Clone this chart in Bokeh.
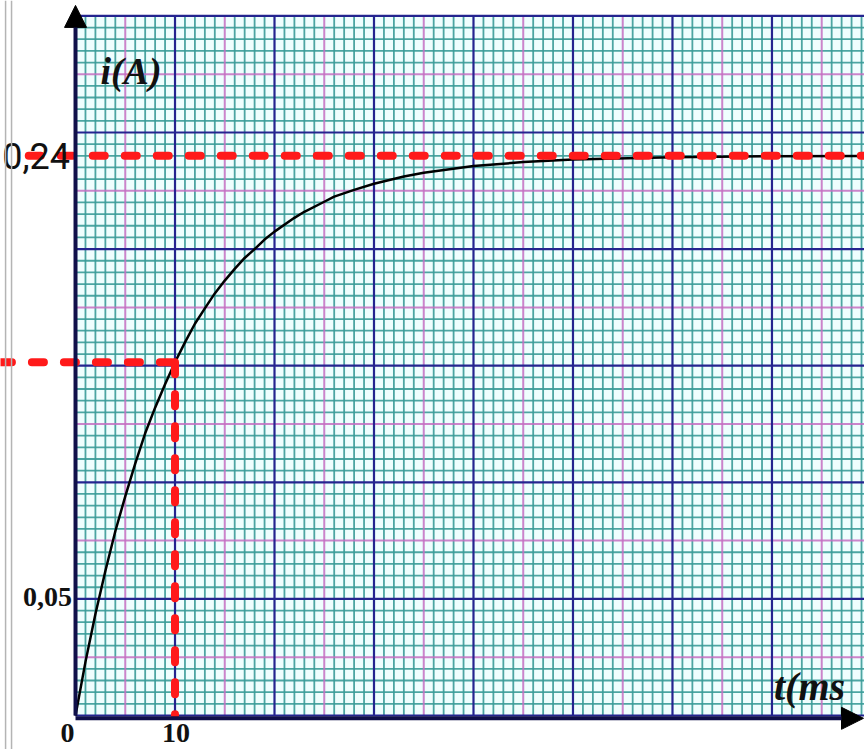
from bokeh.plotting import figure
from bokeh.models import Range1d, Arrow, NormalHead, Span
from bokeh.core.properties import value
from bokeh.embed import file_html
from bokeh.resources import INLINE

# RL circuit: current build-up i(t), time in ms, current in A
t_ms = [0, 1, 2, 3, 4, 5, 6, 7, 8, 9, 10, 11, 12, 13, 14, 15, 16, 17, 18,
        19, 20, 22, 23, 25, 26, 28, 30, 33, 35, 40, 45, 50, 60, 70, 80]
i_A = [0.0, 0.023, 0.0435, 0.062, 0.079, 0.094, 0.108, 0.121, 0.132, 0.142,
       0.1515, 0.16, 0.168, 0.1746, 0.181, 0.1865, 0.1915, 0.1962, 0.2,
       0.2041, 0.2075, 0.2134, 0.216, 0.2203, 0.2225, 0.2254, 0.228,
       0.2311, 0.2327, 0.2356, 0.2373, 0.2384, 0.2394, 0.2398, 0.2399]

i_max = 0.24        # steady-state current
tau = 10            # time constant (ms)
i_tau = 0.1515      # current reached at t = tau

x_tick_values = [0, 10]
x_tick_labels = ["0", "10"]
y_tick_values = [0.05]
y_tick_labels = ["0,05"]

# paper extent
T_END = 80
I_TOP = 0.30

p = figure(width=864, height=749, output_backend="svg", toolbar_location=None,
           x_range=Range1d(-7.54, 79.3), y_range=Range1d(-0.01458, 0.3066),
           x_axis_type=None, y_axis_type=None, min_border=0,
           outline_line_color=None, background_fill_color="white",
           border_fill_color="white")
p.xgrid.visible = False
p.ygrid.visible = False

# margin rulings on the left
for loc in (-7.03, -6.43):
    p.add_layout(Span(location=loc, dimension="height", line_color="#b4b4b4",
                      line_width=1.5))

# graph paper background
p.quad(left=0, right=T_END, bottom=0, top=I_TOP, fill_color="#effefe",
       line_color=None)

# graph paper rulings: 1 ms / 0.005 A cells, 5-unit marks in magenta, 10-unit in navy
vt = list(range(0, T_END + 1))
hk = list(range(0, int(round(I_TOP / 0.005)) + 1))
minor_v = [t for t in vt if t % 5]
mid_v = [t for t in vt if t % 5 == 0 and t % 10]
major_v = [t for t in vt if t % 10 == 0]
minor_h = [k * 0.005 for k in hk if k % 5]
mid_h = [k * 0.005 for k in hk if k % 5 == 0 and k % 10]
major_h = [k * 0.005 for k in hk if k % 10 == 0]

p.segment(x0=minor_v, x1=minor_v, y0=0, y1=I_TOP, line_color="#3a9b98",
          line_width=1.8, line_alpha=0.9)
p.segment(x0=0, x1=T_END, y0=minor_h, y1=minor_h, line_color="#3a9b98",
          line_width=1.8, line_alpha=0.9)
p.segment(x0=mid_v, x1=mid_v, y0=0, y1=I_TOP, line_color="#c46fc2",
          line_width=2, line_alpha=0.85)
p.segment(x0=0, x1=T_END, y0=mid_h, y1=mid_h, line_color="#c46fc2",
          line_width=2, line_alpha=0.85)
p.segment(x0=major_v, x1=major_v, y0=0, y1=I_TOP, line_color="#24248f",
          line_width=2.2)
p.segment(x0=0, x1=T_END, y0=major_h, y1=major_h, line_color="#24248f",
          line_width=2.2)

# axes with arrow heads
p.add_layout(Arrow(end=NormalHead(size=22, fill_color="black", line_color="black"),
                   x_start=0, y_start=0, x_end=0, y_end=0.3045,
                   line_color="#10104a", line_width=4))
p.add_layout(Arrow(end=NormalHead(size=22, fill_color="black", line_color="black"),
                   x_start=0, y_start=-0.0012, x_end=79.2, y_end=-0.0012,
                   line_color="#10104a", line_width=4))

# current curve
p.line(t_ms, i_A, line_color="black", line_width=2.5, line_join="round")

# construction lines for i_max and tau
p.line([-4.7, T_END], [i_max, i_max], line_color="#ff1a1a", line_width=8,
       line_dash="12 20", line_cap="round")
p.line([-7.6, tau], [i_tau, i_tau], line_color="#ff1a1a", line_width=8,
       line_dash="12 20", line_cap="round")
p.line([tau, tau], [i_tau, 0.0], line_color="#ff1a1a", line_width=8,
       line_dash="12 20", line_cap="round")

# tick labels
serif = value("Liberation Serif")
p.text(x=x_tick_values, y=[-0.0075] * 2, text=x_tick_labels, text_font=serif,
       text_font_size="28px", text_font_style="bold", text_color="#111111",
       text_align="center", text_baseline="middle", x_offset=[-8, 1])
p.text(x=[-0.35], y=y_tick_values, text=y_tick_labels, text_font=serif,
       text_font_size="28px", text_font_style="bold", text_color="#111111",
       text_align="right", text_baseline="middle", y_offset=[-2])

# axis titles
p.text(x=[2.5], y=[0.2765], text=["i(A)"], text_font=serif,
       text_font_size="38px", text_font_style="bold italic",
       text_color="#111111", text_align="left", text_baseline="middle")
p.text(x=[70.2], y=[0.0125], text=["t(ms"], text_font=serif,
       text_font_size="40px", text_font_style="bold italic",
       text_color="#111111", text_align="left", text_baseline="middle")

# handwritten value of the steady-state current
p.text(x=[-0.55], y=[i_max], text=["0,24"], text_font=value("Roboto"),
       text_font_size="36px", text_color="#111111", text_align="right",
       text_baseline="middle")

open("out.html", "w").write(file_html(p, INLINE))
